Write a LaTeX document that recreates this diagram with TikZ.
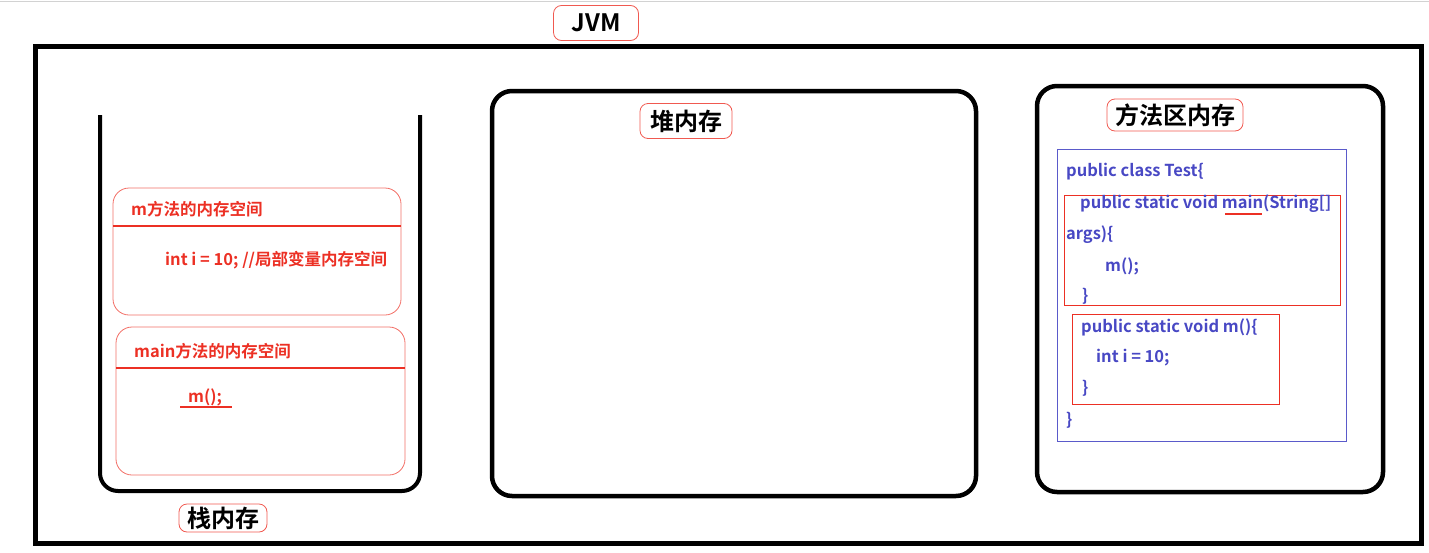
\documentclass[tikz,border=0pt]{standalone}
\usepackage{fontspec}
\setmainfont{Noto Sans CJK SC}[BoldFont={Noto Sans CJK SC Bold}]
\usetikzlibrary{positioning}

\definecolor{memred}{RGB}{236,48,36}
\definecolor{codeblue}{RGB}{72,72,196}

\begin{document}
\begin{tikzpicture}[x=1pt, y=-1pt,
  area/.style   = {draw=black, line width=4.5pt, rounded corners=20pt},
  tag/.style    = {draw=memred!80, line width=0.8pt, rounded corners=8pt,
                   inner xsep=8pt, inner ysep=0pt, minimum height=32pt,
                   font=\fontsize{24}{26}\selectfont\bfseries},
  frame/.style  = {draw=memred!70, line width=0.8pt, rounded corners=16pt},
  frametxt/.style = {anchor=west, text=memred, inner sep=0pt,
                   font=\fontsize{16.5}{19}\selectfont\bfseries},
  code/.style   = {anchor=west, text=codeblue, inner sep=0pt,
                   font=\fontsize{16.5}{19}\selectfont\bfseries},
  codebox/.style = {draw=memred, line width=1pt}]

% page size of the screenshot
\useasboundingbox (0,0) rectangle (1429,552);
\draw[gray!35, line width=1pt] (0,1) -- (1429,1);

% the JVM itself
\draw[line width=5pt] (35,46) rectangle (1421,543);
\node[tag, minimum width=85pt, minimum height=35pt] (jvm) at (596,23) {JVM};

% stack memory (open at the top)
\draw[line width=4pt, rounded corners=18pt] (100,115) -- (100,491) -- (420,491) -- (420,115);
\node[tag, minimum height=28pt] (stack) at (223,518) {栈内存};

% frame of m()
\draw[frame] (113,188) rectangle (401,315);
\draw[memred, line width=2.5pt] (113,226) -- (401,226);
\node[frametxt] (mtitle) at (131,209) {m方法的内存空间};
\node[frametxt] (mvar) at (165,260) {int i = 10; //局部变量内存空间};

% frame of main()
\draw[frame] (116,327) rectangle (405,475);
\draw[memred, line width=2.5pt] (116,368) -- (405,368);
\node[frametxt] (maintitle) at (134,351) {main方法的内存空间};
\node[frametxt] (mcall) at (188,397) {m();};
\draw[memred, line width=2.5pt] (180,407) -- (232,407);

% heap memory
\draw[area] (492,91) rectangle (976,496);
\node[tag, minimum width=92pt, minimum height=35pt] (heap) at (686,121) {堆内存};

% method area
\draw[area] (1037,86) rectangle (1383,492);
\node[tag] (method) at (1175,115) {方法区内存};

% class source in the method area
\draw[draw=codeblue!90, line width=1pt] (1057,149) rectangle (1346,441);
\draw[codebox] (1064,195) rectangle (1340,305);
\draw[codebox] (1072,314) rectangle (1279,404);
\node[code] (l1) at (1066,172) {public class Test\{};
\node[code] (l2) at (1080,204) {public static void main(String[]};
\node[code] (l3) at (1066,235) {args)\{};
\node[code] (l4) at (1105,266) {m();};
\node[code] (l5) at (1082,296) {\}};
\node[code] (l6) at (1081,327) {public static void m()\{};
\node[code] (l7) at (1096,358) {int i = 10;};
\node[code] (l8) at (1082,388) {\}};
\node[code] (l9) at (1066,420) {\}};
\draw[memred, line width=1.2pt] (1225,214) -- (1262,214);

\end{tikzpicture}
\end{document}
